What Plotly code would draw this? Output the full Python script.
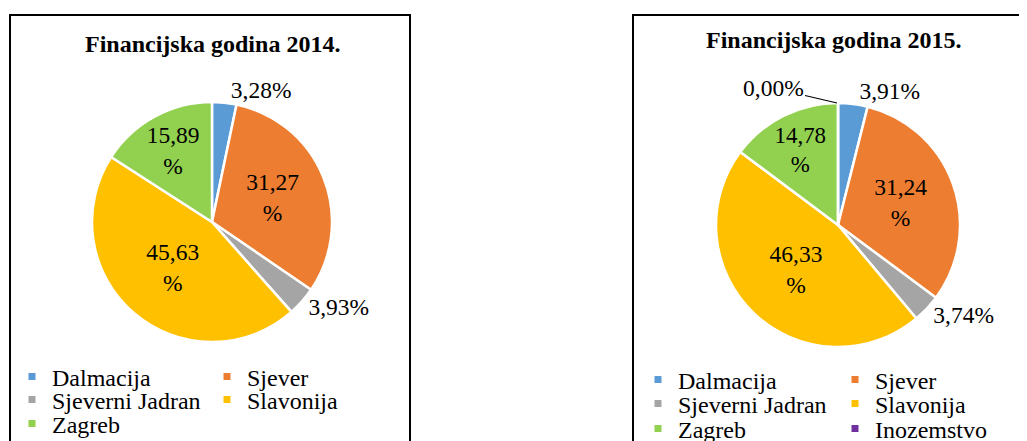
import plotly.graph_objects as go

# page body has an 8px margin; figure sized so that it exactly fills the 1027x441 window
OFF = 8
W, H = 1027 - OFF, 441 - OFF

categories = ["Dalmacija", "Sjever", "Sjeverni Jadran", "Slavonija", "Zagreb", "Inozemstvo"]
colors = ["#5B9BD5", "#ED7D31", "#A5A5A5", "#FFC000", "#92D050", "#7030A0"]
values_2014 = [3.28, 31.27, 3.93, 45.63, 15.89]
values_2015 = [3.91, 31.24, 3.74, 46.33, 14.78, 0.00]
titles = ["Financijska godina 2014.", "Financijska godina 2015."]

FONT = "Liberation Serif"


def px_x(x):
    return (x - OFF) / W


def px_y(y):
    return 1 - (y - OFF) / H


def fmt(v):
    return f"{v:.2f}".replace(".", ",")


def labels_for(vals):
    texts, pos = [], []
    for v in vals:
        if v <= 0:
            texts.append("")
            pos.append("none")
        elif v > 10:
            texts.append(fmt(v) + "<br>%")
            pos.append("inside")
        else:
            texts.append(fmt(v) + "%")
            pos.append("outside")
    return texts, pos


fig = go.Figure()

pies = [
    (values_2014, (212, 222), 120),
    (values_2015, (838, 225), 122),
]
for vals, (cx, cy), r in pies:
    texts, pos = labels_for(vals)
    fig.add_trace(go.Pie(
        labels=categories[:len(vals)],
        values=vals,
        marker=dict(colors=colors[:len(vals)], line=dict(color="white", width=2.5)),
        sort=False,
        direction="clockwise",
        rotation=0,
        text=texts,
        textinfo="text",
        textposition=pos,
        insidetextorientation="horizontal",
        insidetextfont=dict(family=FONT, size=23.5, color="black"),
        outsidetextfont=dict(family=FONT, size=23.5, color="black"),
        domain=dict(x=[px_x(cx - r), px_x(cx + r)], y=[px_y(cy + r), px_y(cy - r)]),
        showlegend=False,
        hoverinfo="label+value",
    ))

# legend-only entries, one legend per row (2 columns each)
legend_specs = [
    # (number of categories, text x, row centers, column spacing)
    (5, 53, [377, 400, 424], 150),
    (6, 679, [380, 404, 429], 152),
]
legend_layouts = {}
lid = 0
for li, (ncat, tx, rows, ew) in enumerate(legend_specs):
    for ri, ry in enumerate(rows):
        lid += 1
        name = "legend" if lid == 1 else f"legend{lid}"
        legend_layouts[name] = dict(
            x=px_x(tx - 41), xanchor="left",
            y=px_y(ry), yanchor="middle",
            orientation="h", entrywidth=ew, entrywidthmode="pixels",
            bgcolor="rgba(0,0,0,0)",
            font=dict(family=FONT, size=24, color="black"),
            itemclick=False, itemdoubleclick=False,
        )
        for ci in range(2):
            k = ri * 2 + ci
            if k >= ncat:
                continue
            fig.add_trace(go.Scatter(
                x=[None], y=[None], mode="markers",
                marker=dict(symbol="square", size=7, color=colors[k]),
                name=categories[k], legend=name, showlegend=True,
                hoverinfo="skip",
            ))

# titles
for t, cx, cy in [(titles[0], 212, 44), (titles[1], 833, 40)]:
    fig.add_annotation(
        x=px_x(cx), y=px_y(cy), xref="paper", yref="paper",
        text=f"<b>{t}</b>", showarrow=False,
        xanchor="center", yanchor="middle",
        font=dict(family=FONT, size=24, color="black"),
    )

# zero slice label with leader line
zero_val = values_2015[5]
fig.add_annotation(
    x=px_x(837), y=px_y(103), xref="paper", yref="paper",
    text=fmt(zero_val) + "%", showarrow=True,
    arrowhead=0, arrowwidth=1.2, arrowcolor="black",
    ax=-64, ay=-15, xanchor="center", yanchor="middle",
    font=dict(family=FONT, size=23.5, color="black"),
)

# chart borders
fig.add_shape(type="rect", xref="paper", yref="paper",
              x0=px_x(10), x1=px_x(410), y0=-0.2, y1=px_y(15),
              line=dict(color="black", width=2), fillcolor="rgba(0,0,0,0)")
fig.add_shape(type="rect", xref="paper", yref="paper",
              x0=px_x(633), x1=1.2, y0=-0.2, y1=px_y(15),
              line=dict(color="black", width=2), fillcolor="rgba(0,0,0,0)")

fig.update_layout(
    width=W, height=H,
    margin=dict(l=0, r=0, t=0, b=0, autoexpand=False),
    paper_bgcolor="white", plot_bgcolor="white",
    xaxis=dict(visible=False), yaxis=dict(visible=False),
    font=dict(family=FONT, color="black"),
    **legend_layouts,
)

fig.write_html("out.html")
